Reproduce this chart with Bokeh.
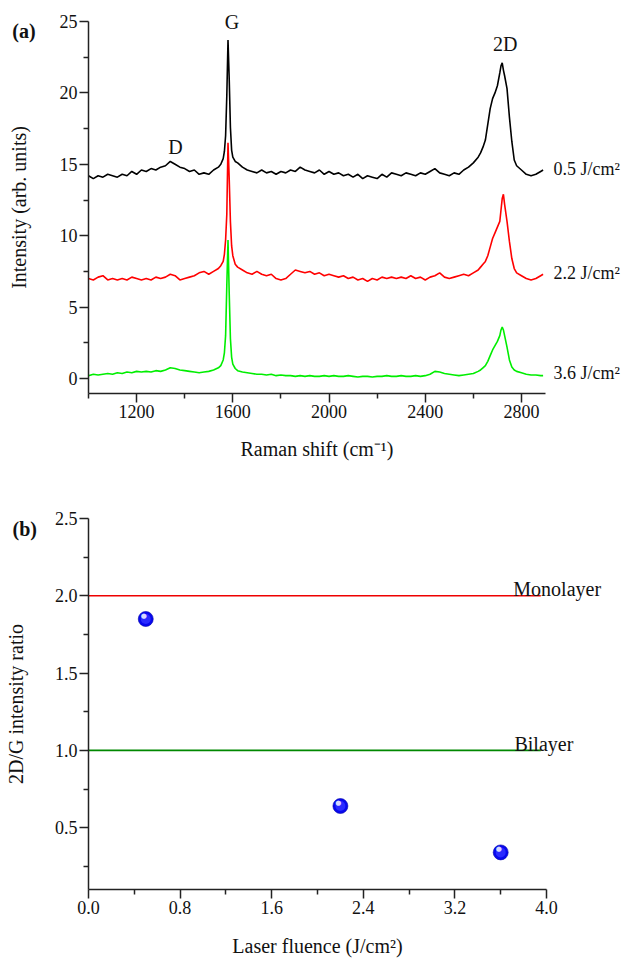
from bokeh.plotting import figure
from bokeh.models import Range1d, FixedTicker, PrintfTickFormatter, Label, ColumnDataSource
from bokeh.layouts import column
from bokeh.embed import file_html
from bokeh.resources import INLINE
from bokeh.core.properties import value

# ---------------- data: panel (a) Raman spectra ----------------
raman_shift = (list(range(1000, 1541, 20))
               + [1550, 1560, 1565, 1570, 1575, 1580, 1585, 1590, 1595, 1600, 1610, 1620, 1640]
               + list(range(1660, 2621, 20))
               + [2630, 2640, 2650, 2660, 2670, 2680, 2690, 2700, 2710, 2715, 2720, 2725, 2730,
                  2740, 2750, 2760, 2770, 2780]
               + [2800, 2820, 2840, 2860, 2880, 2890])

intensity_05 = [14.2, 14.0, 14.2, 14.1, 14.3, 14.2, 14.1, 14.3, 14.2, 14.5, 14.3, 14.6, 14.5, 14.7,
                14.6, 14.8, 14.9, 15.2, 15.0, 14.8, 14.7, 14.5, 14.6, 14.3, 14.4, 14.3, 14.6, 14.8,
                15.0, 15.4, 15.9, 17.0, 19.8, 23.7, 21.0, 17.6, 16.0, 15.5, 15.2, 15.1, 14.8,
                14.6, 14.5, 14.4, 14.6, 14.4, 14.5, 14.3, 14.5, 14.4, 14.6, 14.5, 14.8, 14.6, 14.5,
                14.4, 14.6, 14.3, 14.5, 14.3, 14.4, 14.2, 14.3, 14.1, 14.3, 14.0, 14.2, 14.1, 14.0,
                14.3, 14.1, 14.4, 14.3, 14.2, 14.4, 14.3, 14.2, 14.4, 14.3, 14.5, 14.7, 14.4, 14.3,
                14.2, 14.4, 14.3, 14.6, 14.8, 15.1, 15.5,
                15.8, 16.2, 16.7, 17.8, 18.9, 19.6, 20.0, 20.5, 21.4, 21.9, 22.1, 21.6, 21.2,
                20.3, 18.3, 16.6, 15.3, 14.9,
                14.6, 14.3, 14.2, 14.3, 14.5, 14.6]

intensity_22 = [7.0, 6.9, 7.1, 7.2, 6.9, 7.0, 6.9, 7.0, 6.9, 7.1, 7.0, 6.9, 7.0, 6.9,
                7.1, 7.0, 7.1, 7.3, 7.2, 6.9, 7.0, 7.1, 7.2, 7.4, 7.5, 7.3, 7.5, 7.7,
                7.9, 8.2, 8.7, 9.7, 11.5, 16.5, 14.0, 11.0, 9.3, 8.6, 8.0, 7.8, 7.6,
                7.4, 7.3, 7.5, 7.3, 7.2, 7.3, 7.0, 6.9, 7.0, 7.3, 7.6, 7.5, 7.4, 7.5,
                7.3, 7.4, 7.2, 7.3, 7.2, 7.1, 7.2, 7.0, 7.1, 6.9, 7.0, 6.8, 7.0, 6.9,
                7.1, 7.0, 7.1, 7.0, 7.1, 7.0, 7.2, 7.0, 7.1, 6.9, 7.1, 7.2, 7.4, 7.1,
                7.0, 7.1, 7.2, 7.3, 7.2, 7.4, 7.6,
                7.8, 8.0, 8.2, 8.6, 9.2, 9.8, 10.2, 10.6, 11.0, 11.8, 12.6, 12.9, 12.2,
                11.0, 9.6, 8.4, 7.7, 7.4,
                7.2, 7.0, 6.9, 7.0, 7.2, 7.3]

intensity_36 = [0.2, 0.3, 0.25, 0.3, 0.35, 0.3, 0.4, 0.35, 0.45, 0.4, 0.5, 0.45, 0.5, 0.45,
                0.55, 0.5, 0.6, 0.75, 0.7, 0.6, 0.55, 0.5, 0.45, 0.4, 0.45, 0.5, 0.6, 0.75,
                0.9, 1.3, 1.8, 3.0, 6.5, 9.7, 6.0, 2.8, 1.5, 1.0, 0.7, 0.55, 0.45,
                0.4, 0.35, 0.3, 0.3, 0.25, 0.3, 0.2, 0.25, 0.2, 0.2, 0.15, 0.2, 0.15, 0.2,
                0.15, 0.15, 0.2, 0.15, 0.2, 0.15, 0.15, 0.2, 0.15, 0.1, 0.15, 0.15, 0.1, 0.15,
                0.15, 0.2, 0.15, 0.15, 0.2, 0.15, 0.15, 0.2, 0.15, 0.2, 0.3, 0.5, 0.45, 0.35,
                0.3, 0.25, 0.2, 0.25, 0.3, 0.35, 0.5,
                0.6, 0.75, 0.9, 1.2, 1.6, 2.0, 2.3, 2.6, 3.0, 3.4, 3.6, 3.4, 3.0,
                2.2, 1.3, 0.8, 0.6, 0.5,
                0.4, 0.3, 0.25, 0.25, 0.2, 0.2]

spectra_labels = ["0.5 J/cm²", "2.2 J/cm²", "3.6 J/cm²"]
spectra_label_y = [14.7, 7.4, 0.4]
peak_names = ["D", "G", "2D"]
peak_pos = [1362, 1597, 2733]
peak_label_y = [16.2, 25.0, 23.4]

x_limits_a = (1000, 2900)
y_limits_a = (-1.05, 25)
x_ticks_a = [1200, 1600, 2000, 2400, 2800]
x_minor_a = [1000, 1400, 1800, 2200, 2600]
y_ticks_a = [0, 5, 10, 15, 20, 25]
y_minor_a = [2.5, 7.5, 12.5, 17.5, 22.5]

# ---------------- data: panel (b) 2D/G ratio ----------------
fluence = [0.5, 2.2, 3.6]
ratio = [1.85, 0.64, 0.34]
monolayer_ratio = 2.0
bilayer_ratio = 1.0
ref_line_x = [0.0, 3.95]
x_limits_b = (0.0, 4.0)
y_limits_b = (0.1, 2.5)
x_ticks_b = [0.0, 0.8, 1.6, 2.4, 3.2, 4.0]
x_minor_b = [0.4, 1.2, 2.0, 2.8, 3.6]
y_ticks_b = [0.5, 1.0, 1.5, 2.0, 2.5]
y_minor_b = [0.25, 0.75, 1.25, 1.75, 2.25]

FONT = "Liberation Serif"
AXIS_COLOR = "#222222"
W = 625


def make_fig(height, box, xlim, ylim):
    """box = (left, right, top, bottom) pixel edges of the axes box inside the figure.
    The plotting frame fills the whole figure; axes are pinned to the box edges."""
    left, right, top, bottom = box
    sx = (xlim[1] - xlim[0]) / (right - left)
    sy = (ylim[1] - ylim[0]) / (bottom - top)
    xr = Range1d(xlim[0] - left * sx, xlim[1] + (W - right) * sx)
    yr = Range1d(ylim[0] - (height - bottom) * sy, ylim[1] + top * sy)
    p = figure(width=W, height=height, x_range=xr, y_range=yr, output_backend="svg",
               toolbar_location=None, min_border=0)
    for ax in (p.xaxis[0], p.yaxis[0]):
        ax.axis_line_color = AXIS_COLOR
        ax.axis_line_width = 1.5
        ax.major_tick_line_color = AXIS_COLOR
        ax.minor_tick_line_color = AXIS_COLOR
        ax.major_tick_line_width = 1.5
        ax.minor_tick_line_width = 1.5
        ax.major_tick_in = 0
        ax.major_tick_out = 9
        ax.minor_tick_in = 0
        ax.minor_tick_out = 5
        ax.major_label_standoff = 2
        ax.major_label_text_font = FONT
        ax.major_label_text_font_size = "18px"
        ax.major_label_text_color = "#111111"
        ax.axis_label_text_font = FONT
        ax.axis_label_text_font_size = "20px"
        ax.axis_label_text_font_style = "normal"
        ax.axis_label_text_color = "#111111"
    p.xaxis.fixed_location = ylim[0]
    p.xaxis.bounds = xlim
    p.yaxis.fixed_location = xlim[0]
    p.yaxis.bounds = ylim
    p.xgrid.visible = False
    p.ygrid.visible = False
    p.outline_line_color = None
    p.background_fill_color = "white"
    p.border_fill_color = "white"
    return p


def add_label(p, **kw):
    kw.setdefault("text_font", FONT)
    kw.setdefault("text_color", "#111111")
    p.add_layout(Label(**kw))


# ---------------- panel (a) ----------------
pa = make_fig(480, (88, 545, 21, 393), x_limits_a, y_limits_a)
pa.xaxis.ticker = FixedTicker(ticks=x_ticks_a, minor_ticks=x_minor_a)
pa.yaxis.ticker = FixedTicker(ticks=y_ticks_a, minor_ticks=y_minor_a)
pa.xaxis.axis_label = "Raman shift (cm⁻¹)"
pa.yaxis.axis_label = "Intensity (arb. units)"
pa.xaxis.axis_label_standoff = 17
pa.yaxis.axis_label_standoff = 27

src = ColumnDataSource(dict(x=raman_shift, a=intensity_05, b=intensity_22, c=intensity_36))
pa.line("x", "a", source=src, line_color="black", line_width=1.6)
pa.line("x", "b", source=src, line_color="#ff0000", line_width=1.6)
pa.line("x", "c", source=src, line_color="#00ee00", line_width=1.6)

for txt, yy in zip(spectra_labels, spectra_label_y):
    add_label(pa, x=2933, y=yy, text=txt, text_font_size="18px",
              text_align="left", text_baseline="middle")
for txt, xx, yy in zip(peak_names, peak_pos, peak_label_y):
    add_label(pa, x=xx, y=yy, text=txt, text_font_size="20px",
              text_align="center", text_baseline="middle")
add_label(pa, x=683, y=24.3, text="(a)", text_font_size="20px", text_font_style="bold",
          text_align="left", text_baseline="middle")

# ---------------- panel (b) ----------------
pb = make_fig(484, (88, 546, 38, 409), x_limits_b, y_limits_b)
pb.xaxis.ticker = FixedTicker(ticks=x_ticks_b, minor_ticks=x_minor_b)
pb.yaxis.ticker = FixedTicker(ticks=y_ticks_b, minor_ticks=y_minor_b)
pb.xaxis.formatter = PrintfTickFormatter(format="%.1f")
pb.yaxis.formatter = PrintfTickFormatter(format="%.1f")
pb.xaxis.axis_label = "Laser fluence (J/cm²)"
pb.yaxis.axis_label = "2D/G intensity ratio"
pb.xaxis.axis_label_standoff = 18
pb.yaxis.axis_label_standoff = 25

pb.line(ref_line_x, [monolayer_ratio] * 2, line_color="#ee0000", line_width=1.6)
pb.line(ref_line_x, [bilayer_ratio] * 2, line_color="#008800", line_width=1.6)
add_label(pb, x=3.71, y=monolayer_ratio + 0.045, text="Monolayer", text_font_size="20px",
          text_align="left", text_baseline="alphabetic")
add_label(pb, x=3.72, y=bilayer_ratio + 0.04, text="Bilayer", text_font_size="20px",
          text_align="left", text_baseline="alphabetic")

psrc = ColumnDataSource(dict(x=fluence, y=ratio, t=["●"] * len(fluence)))
pb.scatter("x", "y", source=psrc, size=15, fill_color="#0808ee", line_color="#0000aa",
           line_width=0.6)
pb.scatter("x", "y", source=psrc, size=10, fill_color="#2a2aff", line_color=None)
pb.text("x", "y", text="t", source=psrc, text_font=value("DejaVu Sans"), text_font_size="7px",
        text_color="#d8d8ff", text_align="center", text_baseline="middle",
        x_offset=-2, y_offset=-3)
add_label(pb, x=-0.664, y=2.435, text="(b)", text_font_size="20px", text_font_style="bold",
          text_align="left", text_baseline="middle")

layout = column(pa, pb, spacing=0)
open("out.html", "w").write(file_html(layout, INLINE))
